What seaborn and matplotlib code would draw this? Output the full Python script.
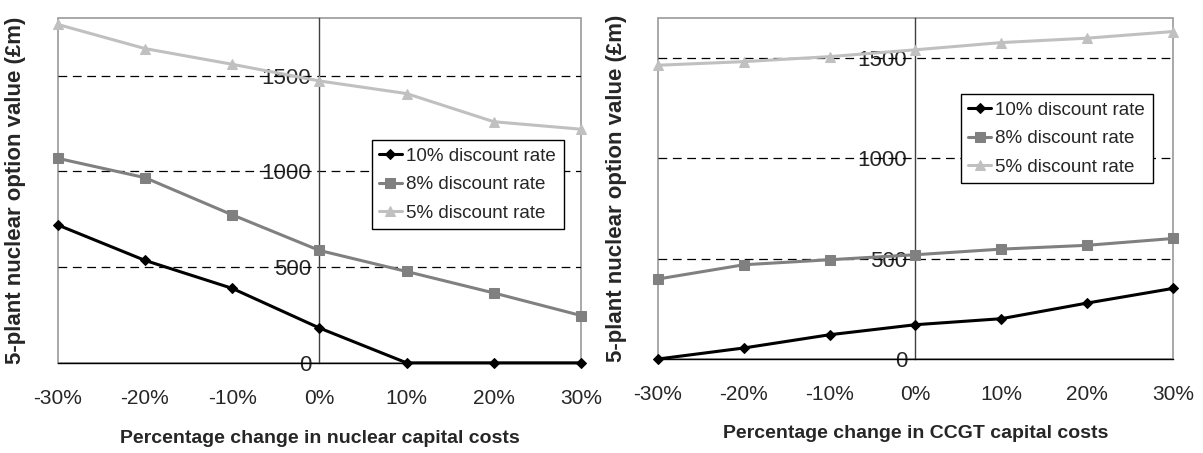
import numpy as np
import pandas as pd
import matplotlib
matplotlib.use("Agg")
import matplotlib.pyplot as plt
import seaborn as sns

# percentage change in capital costs
changes = [-30, -20, -10, 0, 10, 20, 30]
series_names = ["10% discount rate", "8% discount rate", "5% discount rate"]

# option value (GBP m) vs change in nuclear capital costs
nuclear_10 = [720, 535, 389, 182, 0, 0, 0]
nuclear_8 = [1068, 967, 773, 587, 477, 365, 247]
nuclear_5 = [1767, 1641, 1559, 1472, 1406, 1259, 1220]

# option value (GBP m) vs change in CCGT capital costs
ccgt_10 = [0, 55, 121, 171, 201, 279, 352]
ccgt_8 = [399, 470, 495, 520, 548, 567, 601]
ccgt_5 = [1465, 1483, 1508, 1542, 1578, 1600, 1633]

colors = ["#000000", "#808080", "#c0c0c0"]
markers = ["D", "s", "^"]
msizes = [5, 7, 7]

sns.set_style("white")
plt.rcParams["font.family"] = ["Liberation Sans", "DejaVu Sans"]


def make_frame(values):
    rows = []
    for name, vals in zip(series_names, values):
        for c, v in zip(changes, vals):
            rows.append({"change": c, "value": v, "series": name})
    return pd.DataFrame(rows)


def draw_panel(ax, df, ymax, xlabel, legend_box, xlabelpad):
    for name, col, mk, ms in zip(series_names, colors, markers, msizes):
        sub = df[df["series"] == name]
        sns.lineplot(data=sub, x="change", y="value", ax=ax, color=col,
                     marker=mk, markersize=ms, markeredgecolor=col,
                     linewidth=2.2, label=name, clip_on=False, zorder=3)
    ax.set_xlim(changes[0], changes[-1])
    ax.set_ylim(0, ymax)

    # dashed gridlines
    for g in [500, 1000, 1500]:
        ax.axhline(g, color="black", linestyle=(0, (7, 4.5)), linewidth=0.9, zorder=1)

    # grey frame round the plot area
    ax.patch.set_edgecolor("#999999")
    ax.patch.set_linewidth(1.2)
    for s in ["top", "right"]:
        ax.spines[s].set_visible(False)

    # value axis at 0%
    ax.spines["left"].set_position(("data", 0))
    ax.spines["left"].set_color("#404040")
    ax.spines["left"].set_linewidth(1.0)
    ax.spines["bottom"].set_color("black")
    ax.spines["bottom"].set_linewidth(1.0)

    ax.set_xticks(changes)
    ax.set_xticklabels([f"{c}%" for c in changes])
    ax.set_yticks([0, 500, 1000, 1500])
    ax.tick_params(axis="x", direction="out", length=5, width=1, pad=14, labelsize=15)
    ax.tick_params(axis="y", direction="out", length=5, width=1, pad=1, labelsize=16)

    ax.set_xlabel(xlabel, fontsize=14, fontweight="bold", labelpad=xlabelpad)
    ax.set_ylabel("5-plant nuclear option value (£m)", fontsize=16, fontweight="bold")
    ax.yaxis.set_label_coords(-0.06, 0.5)

    leg = ax.legend(loc="upper left", bbox_to_anchor=legend_box, fontsize=13.5,
                    frameon=True, fancybox=False, handlelength=1.2,
                    handletextpad=0.25, borderpad=0.4, labelspacing=0.6,
                    borderaxespad=0)
    leg.get_frame().set_edgecolor("black")
    leg.get_frame().set_linewidth(1.0)
    leg.get_frame().set_alpha(1)


fig = plt.figure(figsize=(12.03, 4.53), dpi=100)
ax1 = fig.add_axes([0.048, 0.199, 0.435, 0.761])
ax2 = fig.add_axes([0.547, 0.2075, 0.428, 0.7525])

draw_panel(ax1, make_frame([nuclear_10, nuclear_8, nuclear_5]), 1800,
           "Percentage change in nuclear capital costs", (0.60, 0.646), 16)
draw_panel(ax2, make_frame([ccgt_10, ccgt_8, ccgt_5]), 1700,
           "Percentage change in CCGT capital costs", (0.588, 0.777), 15)

fig.savefig("out.png", dpi=100)
